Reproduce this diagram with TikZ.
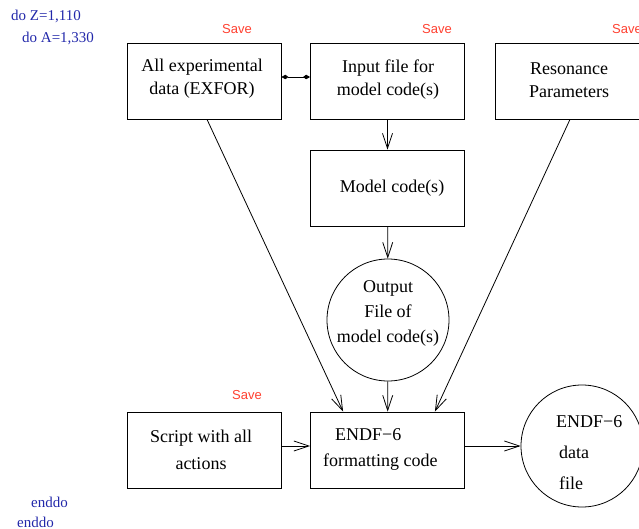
\documentclass[tikz,border=0pt]{standalone}
\usepackage{fontspec}
\setmainfont{Liberation Serif}
\newfontfamily\savefont{Liberation Sans}
\usetikzlibrary{arrows.meta,calc}
\definecolor{loopblue}{RGB}{34,40,170}
\definecolor{savered}{RGB}{255,64,48}
\begin{document}
\begin{tikzpicture}[x=1pt,y=-1pt,
  box/.style={draw,line width=0.8pt,minimum width=154pt,minimum height=76pt,inner sep=0pt},
  disk/.style={draw,line width=0.8pt,circle,minimum size=122pt,inner sep=0pt},
  txt/.style={font=\fontsize{18}{23}\selectfont,align=center,inner sep=0pt},
  flow/.style={line width=0.8pt,-{Straight Barb[length=15pt,width=10pt]}},
  link/.style={line width=0.8pt,{Kite[length=7pt,width=4.5pt,inset=3pt]}-{Kite[length=7pt,width=4.5pt,inset=3pt]}},
  save/.style={font=\savefont\fontsize{13}{15}\selectfont,text=savered,inner sep=0pt,anchor=base west},
  loop/.style={font=\fontsize{15}{17}\selectfont,text=loopblue,inner sep=0pt,anchor=base west},
  line/.style={font=\fontsize{18}{23}\selectfont,inner sep=0pt,anchor=base west}]
\useasboundingbox (0,0) rectangle (639,529);
\begin{scope}
\clip (0,0) rectangle (639,529);

% loop markers
\node[loop] (doz) at (11,21) {do Z=1,110};
\node[loop] (doa) at (22,43) {do A=1,330};
\node[loop] (enda) at (31,507) {enddo};
\node[loop] (endz) at (17,527) {enddo};

% boxes
\node[box] (exfor) at (204,81) {};
\node[txt] (exfortxt) at (202,79) {All experimental\\data (EXFOR)};
\node[box] (input) at (387.5,81) {};
\node[txt] (inputtxt) at (388,80) {Input file for\\model code(s)};
\node[box] (reson) at (572,81) {};
\node[txt] (resontxt) at (569,80) {Resonance\\Parameters};
\node[box] (model) at (387.5,188) {};
\node[txt] (modeltxt) at (392,188) {Model code(s)};
\node[disk] (output) at (388,320) {};
\node[txt,font=\fontsize{18}{25}\selectfont] (outputtxt) at (388,313) {Output\\File of\\model code(s)};
\node[box] (script) at (204,450) {};
\node[txt,font=\fontsize{18}{27}\selectfont] (scripttxt) at (201,450) {Script with all\\actions};
\node[box] (endf) at (387.5,450) {};
\node[line] (endftxta) at (335,440) {ENDF−6};
\node[line] (endftxtb) at (323,466) {formatting code};
\node[disk] (data) at (582,446) {};
\node[line] (datatxta) at (556,427) {ENDF−6};
\node[line] (datatxtb) at (559,458) {data};
\node[line] (datatxtc) at (559,489) {file};

% save markers
\node[save] (savea) at (222,34) {Save};
\node[save] (saveb) at (422,34) {Save};
\node[save] (savec) at (612,34) {Save};
\node[save] (saved) at (232,399) {Save};

% connectors
\draw[link] ([yshift=4pt]exfor.east) -- ([yshift=4pt]input.west);
\draw[flow] (input) -- (model);
\draw[flow] (model) -- (output);
\draw[flow] (output) -- (endf);
\draw[flow] ($(exfor.south)+(3,0)$) -- ($(endf.north west)+(33,0)$);
\draw[flow] ($(reson.south)+(-2,0)$) -- ($(endf.north east)+(-30,0)$);
\draw[flow] ([yshift=4pt]script.east) -- ([yshift=4pt]endf.west);
\draw[flow] ([yshift=4pt]endf.east) -- (data.west);
\end{scope}
\end{tikzpicture}
\end{document}
